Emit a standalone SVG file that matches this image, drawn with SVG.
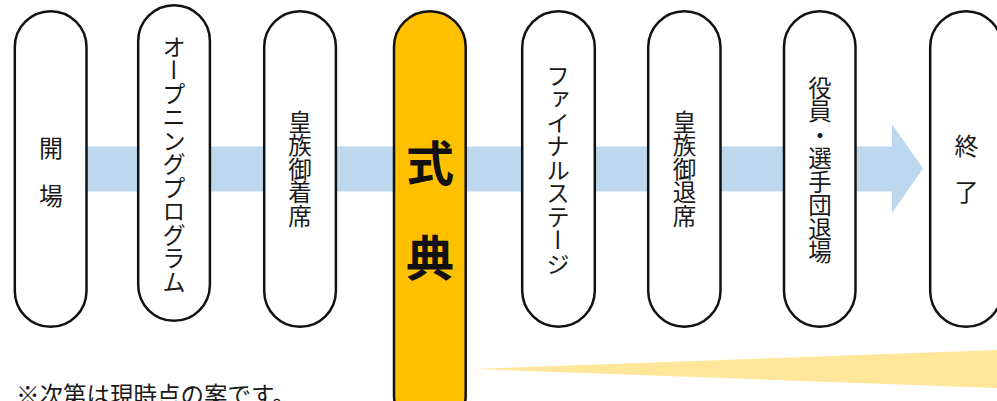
<svg xmlns="http://www.w3.org/2000/svg" width="997" height="401" viewBox="0 0 997 401">
<style>
.pill{fill:#ffffff;stroke:#111111;stroke-width:2.5}
.hl{fill:#FFC000;stroke:#111111;stroke-width:2.5}
.t{font-family:"Noto Sans CJK JP","Noto Sans",sans-serif;fill:#1a1a1a;font-size:23.5px}
.v{writing-mode:vertical-rl;text-anchor:middle}
.c{text-anchor:middle;dominant-baseline:central;font-size:24px}
.big{font-size:48px;font-weight:bold;text-anchor:middle;dominant-baseline:central;fill:#111111}
</style>
<g id="connectors">
<polygon points="50,146.5 892,146.5 892,124 923,168.5 892,213 892,191.5 50,191.5" fill="#BDD7EE"/>
<polygon points="473,369 997,350 997,388" fill="#FFE699"/>
</g>
<g id="n1"><rect class="pill" x="14.8" y="11.2" width="71.7" height="315.6" rx="35.85"/>
<text class="t c" x="51" y="146">開</text><text class="t c" x="51" y="194">場</text></g>
<g id="n2"><rect class="pill" x="138.2" y="5.2" width="71.7" height="315.6" rx="35.85"/>
<text class="t v" x="174" y="164.5">オープニングプログラム</text></g>
<g id="n3"><rect class="pill" x="264.2" y="11.2" width="71.7" height="315.6" rx="35.85"/>
<text class="t v" x="300" y="169">皇族御着席</text></g>
<g id="n4"><rect class="hl" x="394" y="11.2" width="71.7" height="420" rx="35.85"/>
<text class="t big" x="430" y="159.5">式</text><text class="t big" x="430" y="254.5">典</text></g>
<g id="n5"><rect class="pill" x="522.2" y="11.2" width="72.6" height="315.6" rx="36.3"/>
<text class="t v" x="558" y="170">ファイナルステージ</text></g>
<g id="n6"><rect class="pill" x="648.2" y="11.2" width="72.3" height="315.6" rx="36.15"/>
<text class="t v" x="684.5" y="169">皇族御退席</text></g>
<g id="n7"><rect class="pill" x="784" y="11.2" width="71.5" height="315.6" rx="35.75"/>
<text class="t v" x="820" y="170">役員・選手団退場</text></g>
<g id="n8"><rect class="pill" x="930.2" y="11.2" width="71.7" height="315.6" rx="35.85"/>
<text class="t c" x="966.5" y="144">終</text><text class="t c" x="966.5" y="190">了</text></g>
<text class="t" x="16" y="404" font-size="23">※次第は現時点の案です。</text>
</svg>
